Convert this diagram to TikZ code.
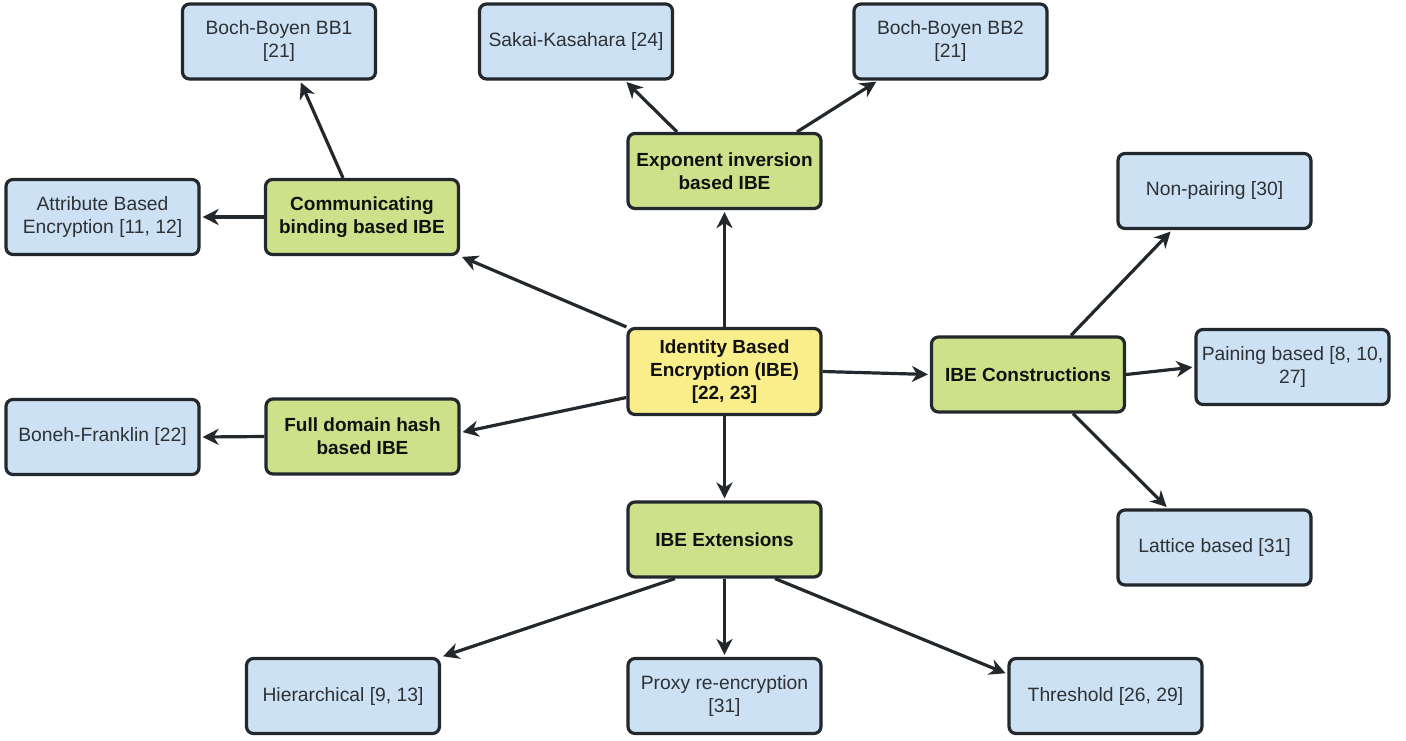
\documentclass[tikz,border=0pt]{standalone}
\usepackage{fontspec}
\setmainfont{Liberation Sans}
\usetikzlibrary{arrows.meta}
\definecolor{bluef}{HTML}{CCE1F3}
\definecolor{greenf}{HTML}{CDE08A}
\definecolor{yellowf}{HTML}{FAEE8A}
\definecolor{bdr}{HTML}{23282D}
\definecolor{leaftxt}{HTML}{2E3236}
\definecolor{boldtxt}{HTML}{111111}
\begin{document}
\begin{tikzpicture}[x=1pt,y=-1pt,
  box/.style={draw=bdr, line width=3.2pt, rounded corners=7pt, minimum width=193pt,
    minimum height=75pt, align=center, inner sep=0pt},
  leaf/.style={box, fill=bluef, text=leaftxt, font=\fontsize{19.3}{23}\selectfont},
  mid/.style={box, fill=greenf, text=boldtxt, font=\fontsize{19}{23}\selectfont\bfseries},
  root/.style={mid, fill=yellowf, minimum height=86pt},
  arr/.style={line width=3.2pt, draw=bdr, -{Stealth[length=16pt,width=16pt,inset=5pt]}, shorten >=2pt}
]
\useasboundingbox (0,0) rectangle (1406,740);

\node[leaf] (bb1) at (279,41.5) {Boch-Boyen BB1\\{}[21]};
\node[leaf] (sk) at (576,41.5) {Sakai-Kasahara [24]};
\node[leaf] (bb2) at (950.5,41.5) {Boch-Boyen BB2\\{}[21]};
\node[mid] (exp) at (724.5,171) {Exponent inversion\\based IBE};
\node[mid] (comm) at (362,217) {Communicating\\binding based IBE};
\node[leaf] (abe) at (102.5,217) {Attribute Based\\Encryption [11, 12]};
\node[leaf] (np) at (1214.5,191) {Non-pairing [30]};
\node[root] (ibe) at (724.5,371.5) {Identity Based\\Encryption (IBE)\\{}[22, 23]};
\node[mid] (cons) at (1028,374.5) {IBE Constructions};
\node[leaf] (pair) at (1292.5,367) {Paining based [8, 10,\\27]};
\node[mid] (fdh) at (362.5,436.5) {Full domain hash\\based IBE};
\node[leaf] (bf) at (102.5,437) {Boneh-Franklin [22]};
\node[leaf] (lat) at (1214.5,547.5) {Lattice based [31]};
\node[mid] (ext) at (724.5,539.5) {IBE Extensions};
\node[leaf] (hier) at (343,696) {Hierarchical [9, 13]};
\node[leaf] (proxy) at (724.5,696) {Proxy re-encryption\\{}[31]};
\node[leaf] (thr) at (1105.5,696) {Threshold [26, 29]};

\draw[arr] (ibe.north west) -- (comm.south east);
\draw[arr] ([xshift=-19pt]comm.north) -- ([xshift=21pt]bb1.south);
\draw[arr] (comm.west) -- (abe.east);
\draw[arr] ([xshift=-47.5pt]exp.north) -- ([xshift=49pt]sk.south);
\draw[arr] ([xshift=72.5pt]exp.north) -- ([xshift=-72.5pt]bb2.south);
\draw[arr] (ibe.north) -- (exp.south);
\draw[arr] (ibe.east) -- (cons.west);
\draw[arr] ([yshift=-26pt]ibe.west) -- ([yshift=4pt]fdh.east);
\draw[arr] (fdh.west) -- (bf.east);
\draw[arr] (ibe.south) -- (ext.north);
\draw[arr] ([xshift=43pt]cons.north) -- ([xshift=-42.5pt]np.south);
\draw[arr] (cons.east) -- (pair.west);
\draw[arr] ([xshift=45pt]cons.south) -- ([xshift=-46.5pt]lat.north);
\draw[arr] ([xshift=-49.5pt]ext.south) -- (hier.north east);
\draw[arr] (ext.south) -- (proxy.north);
\draw[arr] ([xshift=50.5pt]ext.south) -- ([yshift=22pt]thr.west);
\end{tikzpicture}
\end{document}
